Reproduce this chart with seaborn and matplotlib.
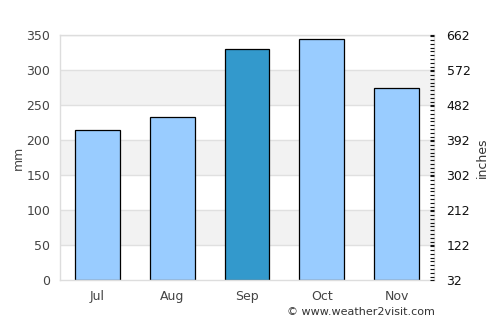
import matplotlib
matplotlib.use("Agg")
import matplotlib.pyplot as plt
import pandas as pd
import seaborn as sns
from matplotlib.ticker import MultipleLocator

months = ["Jul", "Aug", "Sep", "Oct", "Nov"]
rain_mm = [214, 233, 330, 344, 274]
bar_colors = ["#99ccff", "#99ccff", "#3399cc", "#99ccff", "#99ccff"]
right_ticks = [32, 122, 212, 302, 392, 482, 572, 662]

df = pd.DataFrame({"Month": months, "Rain": rain_mm})

sns.set_theme(style="white")
plt.rcParams["font.family"] = ["DejaVu Sans"]

fig = plt.figure(figsize=(5, 3.25), dpi=100)
ax = fig.add_axes([0.12, 0.138, 0.748, 0.754])

# alternating grey bands
for lo in range(50, 350, 100):
    ax.axhspan(lo, lo + 50, color="#f2f2f2", zorder=0, lw=0)
for y in range(50, 351, 50):
    ax.axhline(y, color="#e0e0e0", lw=1, zorder=0.5)

sns.barplot(ax=ax, data=df, x="Month", y="Rain", hue="Month", palette=bar_colors,
            saturation=1, legend=False, width=0.6, edgecolor="black", linewidth=0.9, zorder=2)

ax.set_ylim(0, 350)
ax.set_xlim(-0.5, 4.5)
ax.set_yticks(range(0, 351, 50))
ax.set_xlabel("")
ax.set_ylabel("mm", fontsize=9, color="#444444", labelpad=1)
ax.tick_params(axis="both", labelsize=9, colors="#444444", length=0, pad=7)
for s in ax.spines.values():
    s.set_color("#dddddd")
    s.set_linewidth(1)

ax2 = ax.twinx()
ax2.set_ylim(32, 662)
ax2.set_yticks(right_ticks)
ax2.yaxis.set_minor_locator(MultipleLocator(10))
ax2.tick_params(axis="y", which="major", labelsize=9, colors="#111111", length=3, width=0.8, direction="in", pad=9)
ax2.tick_params(axis="y", which="minor", length=3, width=0.8, color="#111111", direction="in")
ax2.set_ylabel("inches", fontsize=9, color="#333333", labelpad=4)
for s in ax2.spines.values():
    s.set_visible(False)

fig.text(0.87, 0.025, "\u00a9 www.weather2visit.com", ha="right", va="bottom",
         fontsize=8, color="#333333")

fig.savefig("out.png", dpi=100)
